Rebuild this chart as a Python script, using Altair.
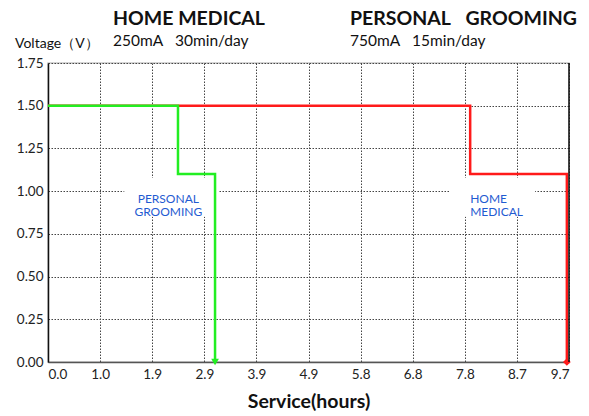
import altair as alt
import pandas as pd

# Step lines (step-after interpolation): x in hours, y in volts
green_x = [0.0, 2.42, 3.11]
green_y = [1.5, 1.1, 0.0]
red_x = [0.0, 7.86, 9.66]
red_y = [1.5, 1.1, 0.0]

x_ticks = [i * 0.97 for i in range(11)]
x_tick_labels = ["0.0", "1.0", "1.9", "2.9", "3.9", "4.9", "5.8", "6.8", "7.8", "8.7", "9.7"]
y_ticks = [0, 0.25, 0.5, 0.75, 1.0, 1.25, 1.5, 1.75]

label_text = [["PERSONAL", "GROOMING"], ["HOME", "MEDICAL"]]
label_x = [2.24, 7.86]
label_y = [0.955, 0.955]
# white backgrounds behind the in-plot labels (data units)
box_x = [1.42, 7.47]
box_x2 = [3.17, 9.07]
box_y = [0.85, 0.85]
box_y2 = [1.077, 1.077]

FONT = "Lato"
W, H = 521, 299

df_green = pd.DataFrame({"x": green_x, "y": green_y, "order": range(len(green_x))})
df_red = pd.DataFrame({"x": red_x, "y": red_y, "order": range(len(red_x))})

xs = alt.Scale(domain=[0, 9.7], nice=False, zero=False)
ys = alt.Scale(domain=[0, 1.75], nice=False)

lab_expr = "[" + ",".join("'%s'" % s for s in x_tick_labels) + "][round(datum.value/0.97)]"

xax = alt.Axis(values=x_ticks, labelExpr=lab_expr, title="Service(hours)", grid=True,
               gridDash=[1.5, 1.5], gridColor="#444", gridWidth=1, ticks=False,
               domainColor="#555", domainWidth=1.5, labelFont=FONT, labelFontSize=13.5,
               labelColor="#222", labelPadding=5, titleFont=FONT, titleFontSize=19.5,
               titleFontWeight="bold", titleColor="#111", titlePadding=12)
yax = alt.Axis(values=y_ticks, format=".2f", title=None, grid=True,
               gridDash=[1.5, 1.5], gridColor="#444", gridWidth=1, ticks=False,
               domainColor="#111", domainWidth=1.5, labelFont=FONT, labelFontSize=13.5,
               labelColor="#222", labelPadding=5)

df_box = pd.DataFrame({"x": box_x, "x2": box_x2, "y": box_y, "y2": box_y2})
boxes = alt.Chart(df_box).mark_rect(color="white").encode(
    x=alt.X("x:Q", scale=xs, axis=xax), x2="x2:Q",
    y=alt.Y("y:Q", scale=ys, axis=yax), y2="y2:Q")

red_line = alt.Chart(df_red).mark_line(interpolate="step-after", color="#ff1a1a", strokeWidth=2.5).encode(
    x=alt.X("x:Q", scale=xs),
    y=alt.Y("y:Q", scale=ys),
    order="order:Q",
)
green_line = alt.Chart(df_green).mark_line(interpolate="step-after", color="#22ee22", strokeWidth=2.5).encode(
    x=alt.X("x:Q", scale=xs),
    y=alt.Y("y:Q", scale=ys),
    order="order:Q",
)
green_end = alt.Chart(df_green.tail(1)).mark_point(shape="triangle-down", filled=True, color="#22ee22", size=60, opacity=1).encode(
    x=alt.X("x:Q", scale=xs), y=alt.Y("y:Q", scale=ys))
red_end = alt.Chart(df_red.tail(1)).mark_point(shape="diamond", filled=True, color="#ff1a1a", size=60, opacity=1).encode(
    x=alt.X("x:Q", scale=xs), y=alt.Y("y:Q", scale=ys))

df_lab = pd.DataFrame({"text": label_text, "x": label_x, "y": label_y})
lab1 = alt.Chart(df_lab.iloc[[0]]).mark_text(font=FONT, fontSize=12, color="#1f5bd1", align="center",
                                             baseline="middle", lineHeight=13).encode(
    x=alt.X("x:Q", scale=xs), y=alt.Y("y:Q", scale=ys), text="text")
lab2 = alt.Chart(df_lab.iloc[[1]]).mark_text(font=FONT, fontSize=12, color="#1f5bd1", align="left",
                                             baseline="middle", lineHeight=13).encode(
    x=alt.X("x:Q", scale=xs), y=alt.Y("y:Q", scale=ys), text="text")

right_border = alt.Chart(pd.DataFrame({"a": [0]})).mark_rule(color="#111", strokeWidth=1.5).encode(
    x=alt.value(W), y=alt.value(0), y2=alt.value(H))

def txt(s, x, y, size, weight="normal", color="#111"):
    return alt.Chart(pd.DataFrame({"t": [s]})).mark_text(
        font=FONT, fontSize=size, fontWeight=weight, color=color, align="left", baseline="middle"
    ).encode(text="t:N", x=alt.value(x), y=alt.value(y))

titles = [
    txt("HOME MEDICAL", 65, -44, 19.5, "bold"),
    txt("250mA\u2002 30min/day", 65, -22, 15.5),
    txt("PERSONAL\u2002 GROOMING", 302, -44, 19.5, "bold"),
    txt("750mA\u2002 15min/day", 302, -22, 15.5),
    txt("Voltage\uff08V\uff09", -33, -19, 14),
]

chart = alt.layer(boxes, red_line, green_line, green_end, red_end, lab1, lab2, right_border, *titles).properties(
    width=W, height=H,
    autosize=alt.AutoSizeParams(type="none"),
    padding={"left": 40, "top": 55, "right": 12, "bottom": 52},
).configure_view(stroke="#c8c8c8", strokeWidth=1.5)

chart.save("out.html", embed_options={"renderer": "svg", "actions": False})
